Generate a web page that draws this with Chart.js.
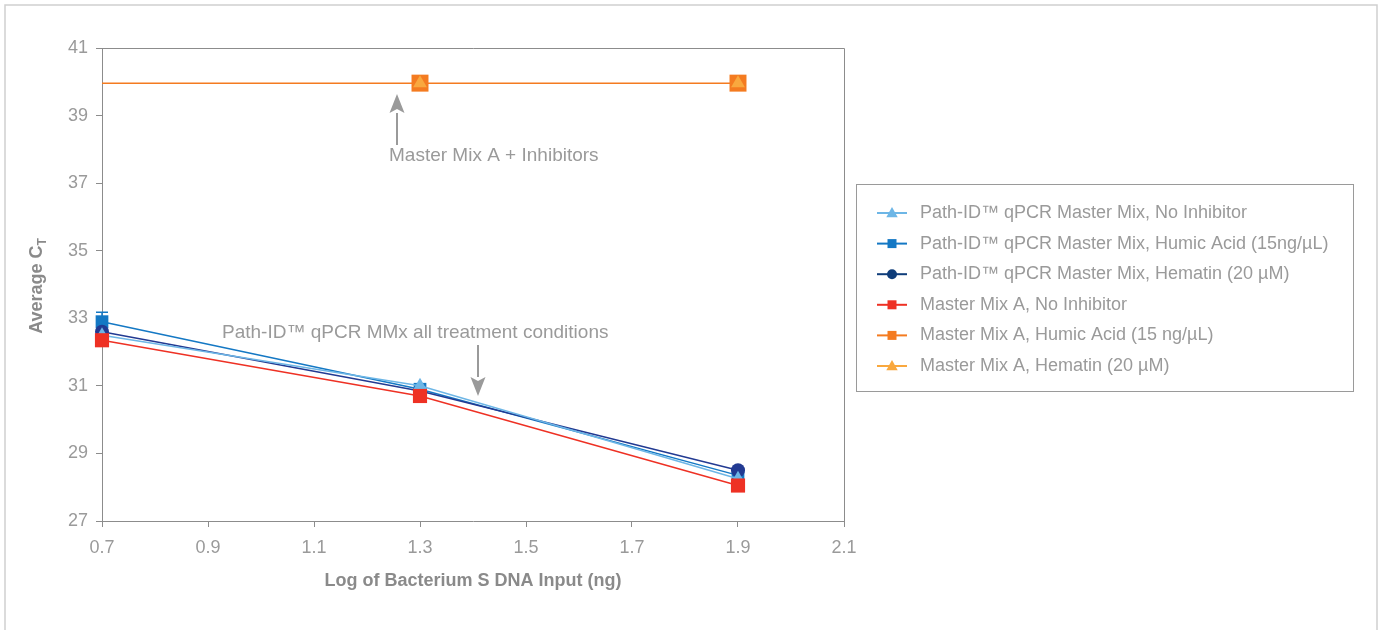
<!DOCTYPE html>
<html>
<head>
<meta charset="utf-8">
<script src="https://cdn.jsdelivr.net/npm/chart.js@4.4.1/dist/chart.umd.min.js"></script>
<style>
  html, body { margin: 0; padding: 0; background: #fff; }
  #wrap { width: 1381px; height: 630px; position: relative; }
</style>
</head>
<body>
<div id="wrap"><canvas id="ctChart" width="1381" height="630"></canvas></div>
<script>
// x values: log of DNA input (ng)
const xInputs = [0.7, 1.3, 1.9];

// average Ct values
const pathIdNoInhibitor = [32.5, 31.0, 28.25];
const pathIdHumic = [32.9, 30.9, 28.35];
const pathIdHematin = [32.6, 30.85, 28.5];
const mmaNoInhibitor = [32.35, 30.7, 28.05];
const mmaHumic = [39.96, 39.96, 39.96];
const mmaHematin = [39.96, 39.96, 39.96];

// only two visible error bars (at 0.7)
const humicErrUp = [0.28, 0, 0];
const noInhErrDown = [0.3, 0, 0];

const seriesLabels = [
    'Path-ID\u2122 qPCR Master Mix, No Inhibitor',
    'Path-ID\u2122 qPCR Master Mix, Humic Acid (15ng/\u00b5L)',
    'Path-ID\u2122 qPCR Master Mix, Hematin (20 \u00b5M)',
    'Master Mix A, No Inhibitor',
    'Master Mix A, Humic Acid (15 ng/\u00b5L)',
    'Master Mix A, Hematin (20 \u00b5M)'
];

const xTicks = [0.7, 0.9, 1.1, 1.3, 1.5, 1.7, 1.9, 2.1];
const yTicks = [27, 29, 31, 33, 35, 37, 39, 41];

const GRAY = '#9a9a9a';
const FONT = '"Liberation Sans", Arial, sans-serif';

function toPoints(vals) {
    return vals.map((v, i) => ({ x: xInputs[i], y: v }));
}

function makeSet(label, vals, color, style, radius, extra = {}) {
    return Object.assign({
        label,
        data: toPoints(vals),
        borderColor: color,
        backgroundColor: color,
        pointStyle: style,
        pointRadius: radius,
        pointHoverRadius: radius,
        pointBorderWidth: 0,
        borderWidth: 1.5,
        tension: 0,
        clip: false
    }, extra);
}

const datasets = [
    makeSet(seriesLabels[3], mmaNoInhibitor, '#ee3124', 'rect', 10, { order: 1 }),
    makeSet(seriesLabels[0], pathIdNoInhibitor, '#6db6e6', 'triangle', 8, { order: 2 }),
    makeSet(seriesLabels[1], pathIdHumic, '#1478c4', 'rect', 9, { order: 4 }),
    makeSet(seriesLabels[2], pathIdHematin, '#223a92', 'circle', 7, { order: 3 }),
    makeSet(seriesLabels[4], mmaHumic, '#f47b20', 'rect', [0, 12, 12], { order: 6 }),
    makeSet(seriesLabels[5], mmaHematin, '#f9a83e', 'triangle', [0, 8, 8], { order: 5, borderWidth: 0 })
];

// legend order + styles, drawn by hand
const legendItems = [
    { label: seriesLabels[0], color: '#6db6e6', style: 'triangle', r: 6 },
    { label: seriesLabels[1], color: '#1478c4', style: 'rect', r: 4.5 },
    { label: seriesLabels[2], color: '#0f3d7a', style: 'circle', r: 5 },
    { label: seriesLabels[3], color: '#ee3124', style: 'rect', r: 4.5 },
    { label: seriesLabels[4], color: '#f47b20', style: 'rect', r: 4.5 },
    { label: seriesLabels[5], color: '#f9a83e', style: 'triangle', r: 6 }
];

function drawMarker(ctx, style, x, y, r, color) {
    ctx.fillStyle = color;
    ctx.beginPath();
    if (style === 'rect') {
        ctx.rect(x - r, y - r, 2 * r, 2 * r);
    } else if (style === 'circle') {
        ctx.arc(x, y, r, 0, Math.PI * 2);
    } else {
        ctx.moveTo(x, y - r);
        ctx.lineTo(x + r * 0.95, y + r * 0.7);
        ctx.lineTo(x - r * 0.95, y + r * 0.7);
        ctx.closePath();
    }
    ctx.fill();
}

function drawArrow(ctx, x, yFrom, yTo) {
    const dir = yTo > yFrom ? 1 : -1;
    const headLen = 19, headHalf = 7.5;
    ctx.strokeStyle = GRAY;
    ctx.fillStyle = GRAY;
    ctx.lineWidth = 2;
    ctx.beginPath();
    ctx.moveTo(x, yFrom);
    ctx.lineTo(x, yTo - dir * headLen);
    ctx.stroke();
    ctx.beginPath();
    ctx.moveTo(x, yTo);
    ctx.lineTo(x - headHalf, yTo - dir * headLen);
    ctx.lineTo(x, yTo - dir * (headLen - 4));
    ctx.lineTo(x + headHalf, yTo - dir * headLen);
    ctx.closePath();
    ctx.fill();
}

const decorPlugin = {
    id: 'decor',
    beforeDatasetsDraw(chart) {
        const { ctx, chartArea, scales } = chart;
        const xs = scales.x, ys = scales.y;
        ctx.save();
        // box top and right edges
        ctx.strokeStyle = '#8c8c8c';
        ctx.lineWidth = 1;
        ctx.beginPath();
        ctx.moveTo(chartArea.left, chartArea.top + 0.5);
        ctx.lineTo(chartArea.right + 0.5, chartArea.top + 0.5);
        ctx.lineTo(chartArea.right + 0.5, chartArea.bottom);
        ctx.stroke();

        // error bars
        ctx.lineWidth = 1.5;
        const caps = [
            { vals: pathIdHumic, err: humicErrUp, sign: 1, color: '#1478c4' },
            { vals: pathIdNoInhibitor, err: noInhErrDown, sign: -1, color: '#6db6e6' }
        ];
        caps.forEach(c => {
            c.vals.forEach((v, i) => {
                if (!c.err[i]) return;
                const px = xs.getPixelForValue(xInputs[i]);
                const y0 = ys.getPixelForValue(v);
                const y1 = ys.getPixelForValue(v + c.sign * c.err[i]);
                ctx.strokeStyle = c.color;
                ctx.beginPath();
                ctx.moveTo(px, y0);
                ctx.lineTo(px, y1);
                ctx.moveTo(px - 6, y1);
                ctx.lineTo(px + 6, y1);
                ctx.stroke();
            });
        });
        ctx.restore();
    },
    afterDraw(chart) {
        const { ctx, chartArea } = chart;
        ctx.save();

        // outer frame
        ctx.strokeStyle = '#d0d0d0';
        ctx.lineWidth = 1.5;
        ctx.beginPath();
        ctx.moveTo(5, 640);
        ctx.lineTo(5, 5);
        ctx.lineTo(1377, 5);
        ctx.lineTo(1377, 640);
        ctx.stroke();

        // annotations
        ctx.fillStyle = GRAY;
        ctx.font = '19px ' + FONT;
        ctx.textBaseline = 'middle';
        ctx.textAlign = 'left';
        ctx.fillText('Master Mix A + Inhibitors', 389, 156);
        ctx.fillText('Path-ID\u2122 qPCR MMx all treatment conditions', 222, 333);
        drawArrow(ctx, 397, 145, 94);
        drawArrow(ctx, 478, 345, 396);

        // axis titles
        ctx.fillStyle = '#8a8a8a';
        ctx.font = 'bold 18px ' + FONT;
        ctx.textAlign = 'center';
        ctx.fillText('Log of Bacterium S DNA Input (ng)', (chartArea.left + chartArea.right) / 2, 581);

        ctx.save();
        ctx.translate(37, 286);
        ctx.rotate(-Math.PI / 2);
        const main = 'Average C';
        const wMain = ctx.measureText(main).width;
        ctx.font = 'bold 12px ' + FONT;
        const wSub = ctx.measureText('T').width;
        const start = -(wMain + wSub) / 2;
        ctx.textAlign = 'left';
        ctx.font = 'bold 18px ' + FONT;
        ctx.fillText(main, start, 0);
        ctx.font = 'bold 12px ' + FONT;
        ctx.fillText('T', start + wMain, 6);
        ctx.restore();

        // legend box
        ctx.strokeStyle = '#9a9a9a';
        ctx.lineWidth = 1;
        ctx.strokeRect(856.5, 184.5, 497, 207);
        ctx.font = '18px ' + FONT;
        ctx.textAlign = 'left';
        ctx.textBaseline = 'middle';
        legendItems.forEach((item, i) => {
            const y = 213 + i * 30.6;
            ctx.strokeStyle = item.color;
            ctx.lineWidth = 2;
            ctx.beginPath();
            ctx.moveTo(877, y);
            ctx.lineTo(907, y);
            ctx.stroke();
            drawMarker(ctx, item.style, 892, y, item.r, item.color);
            ctx.fillStyle = GRAY;
            ctx.fillText(item.label, 920, y);
        });
        ctx.restore();
    }
};

new Chart(document.getElementById('ctChart'), {
    type: 'line',
    data: { datasets },
    options: {
        responsive: false,
        animation: false,
        events: [],
        layout: { padding: { left: 0, top: 48, right: 537, bottom: 0 } },
        plugins: {
            legend: { display: false },
            tooltip: { enabled: false }
        },
        scales: {
            x: {
                type: 'linear',
                min: 0.7,
                max: 2.1,
                afterBuildTicks: s => { s.ticks = xTicks.map(v => ({ value: v })); },
                afterFit: s => { s.height = 109; },
                grid: { drawOnChartArea: false, drawTicks: true, tickLength: 6, color: '#8c8c8c' },
                border: { display: true, color: '#8c8c8c', width: 1 },
                ticks: {
                    color: GRAY,
                    padding: 10,
                    maxRotation: 0,
                    font: { family: FONT, size: 18 },
                    callback: v => v.toFixed(1)
                }
            },
            y: {
                type: 'linear',
                min: 27,
                max: 41,
                afterBuildTicks: s => { s.ticks = yTicks.map(v => ({ value: v })); },
                afterFit: s => { s.width = 102; },
                grid: { drawOnChartArea: false, drawTicks: true, tickLength: 6, color: '#8c8c8c' },
                border: { display: true, color: '#8c8c8c', width: 1 },
                ticks: {
                    color: GRAY,
                    padding: 8,
                    font: { family: FONT, size: 18 },
                    callback: v => String(v)
                }
            }
        }
    },
    plugins: [decorPlugin]
});
</script>
</body>
</html>
